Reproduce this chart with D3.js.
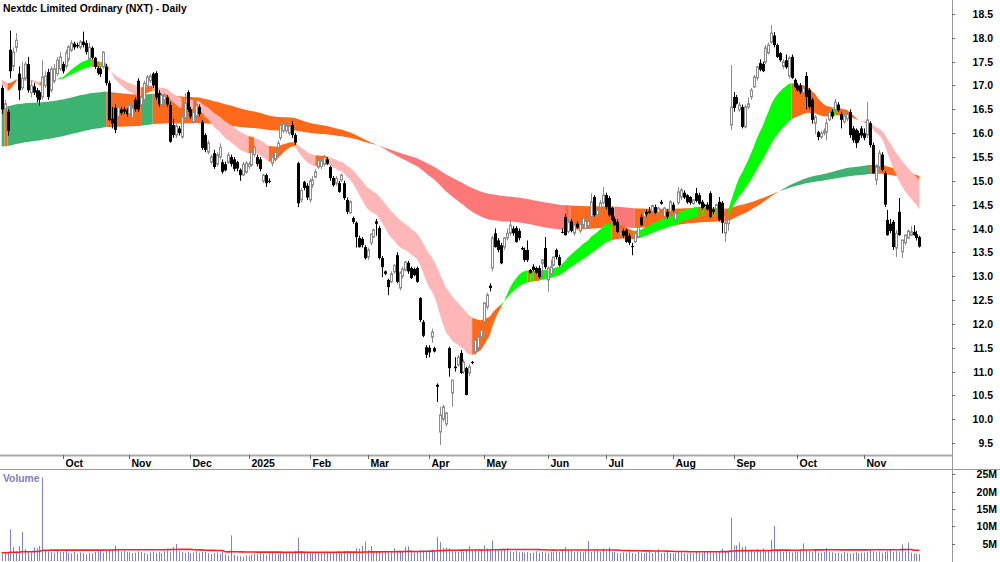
<!DOCTYPE html>
<html>
<head>
<meta charset="utf-8">
<script src="https://cdn.jsdelivr.net/npm/d3@7/dist/d3.min.js"></script>
<style>
  body { margin: 0; background: #fff; }
  svg text { font-family: "Liberation Sans", Arial, sans-serif; font-weight: bold; }
</style>
</head>
<body>
<svg id="chart" width="1000" height="562"></svg>
<script>
// daily candles [open, high, low, close], one array per month
const sep24 = [[16.95,17.0,16.4,16.5],[16.5,16.7,16.45,16.62],[16.45,16.5,15.95,16.05],[17.75,18.15,17.15,17.3],[17.4,17.8,17.3,17.7],[17.8,18.1,17.7,17.95],[17.25,17.4,16.7,16.9],[16.95,17.5,16.9,17.15],[17.15,17.5,17.1,17.45],[17.45,17.6,16.85,16.9],[16.85,17.1,16.75,17.0],[16.98,17.05,16.8,16.85],[16.9,16.95,16.65,16.75],[16.86,16.9,16.58,16.7],[16.76,17.53,16.7,17.18],[17.0,17.3,16.95,17.2],[17.28,17.35,16.7,16.76],[16.9,17.4,16.85,17.35],[17.1,17.45,17.05,17.35],[17.25,17.6,17.2,17.53],[17.35,17.7,17.3,17.6]];
const oct24 = [[17.45,17.5,17.25,17.3],[17.4,17.75,17.35,17.68],[17.55,17.85,17.5,17.81],[17.74,17.95,17.7,17.89],[17.88,17.92,17.75,17.8],[17.85,17.9,17.78,17.82],[17.8,17.95,17.75,17.92],[17.92,18.13,17.8,17.85],[17.89,17.95,17.65,17.7],[17.55,17.9,17.5,17.8],[17.79,17.82,17.55,17.58],[17.58,17.6,17.35,17.39],[17.37,17.4,17.22,17.26],[17.35,17.38,17.18,17.24],[17.39,17.72,17.35,17.7],[17.39,17.45,17.0,17.05],[17.05,17.1,16.25,16.28],[16.3,16.55,16.1,16.2],[16.53,16.6,16.0,16.07],[16.34,16.6,16.3,16.55],[16.5,16.55,16.38,16.42],[16.5,16.55,16.4,16.45],[16.48,16.52,16.35,16.4]];
const nov24 = [[16.4,16.65,16.35,16.6],[16.32,16.6,16.3,16.53],[16.7,16.75,16.45,16.5],[17.1,17.15,16.45,16.5],[16.6,16.8,16.55,16.75],[16.7,17.1,16.65,17.05],[17.0,17.22,16.95,17.18],[17.1,17.25,17.05,17.2],[17.25,17.28,16.95,17.0],[17.26,17.3,16.7,16.75],[16.84,16.9,16.55,16.6],[16.6,16.85,16.55,16.8],[16.7,16.85,16.65,16.78],[16.75,16.8,16.55,16.6],[16.59,16.65,15.8,15.82],[16.17,16.3,15.9,15.96],[15.96,16.2,15.9,16.15],[16.1,16.15,15.95,16.0],[15.92,16.4,15.88,16.34],[16.32,16.84,16.3,16.63],[16.86,16.9,16.45,16.49]];
const dec24 = [[16.5,16.55,16.3,16.35],[16.23,16.5,16.2,16.44],[16.35,16.7,16.3,16.6],[16.55,16.6,16.35,16.4],[16.23,16.28,15.65,15.69],[15.96,16.0,15.6,15.65],[15.6,15.85,15.55,15.8],[15.39,15.55,15.35,15.5],[15.58,15.65,15.25,15.29],[15.35,15.6,15.3,15.55],[15.5,15.79,15.45,15.7],[15.39,15.45,15.15,15.19],[15.35,15.4,15.2,15.22],[15.39,15.6,15.35,15.54],[15.5,15.55,15.3,15.35],[15.45,15.5,15.2,15.25],[15.39,15.42,15.2,15.26],[15.23,15.26,15.0,15.12],[15.12,15.4,15.1,15.35],[15.18,15.42,15.15,15.37]];
const jan25 = [[15.3,15.4,15.25,15.35],[15.33,15.65,15.3,15.6],[15.55,15.75,15.5,15.7],[15.5,15.55,15.3,15.35],[15.45,15.5,15.2,15.25],[15.0,15.15,14.95,15.12],[15.12,15.15,14.87,14.95],[15.0,15.05,14.95,14.98],[15.37,15.55,15.3,15.5],[15.45,15.65,15.4,15.6],[15.69,15.85,15.65,15.79],[15.9,16.2,15.85,16.17],[16.05,16.25,16.0,16.2],[16.05,16.22,16.0,16.15],[16.0,16.2,15.95,16.15],[16.17,16.25,15.9,15.96],[15.96,16.0,15.75,15.8],[15.37,15.4,14.45,14.53],[14.6,14.85,14.55,14.8],[14.98,15.0,14.8,14.85],[14.9,14.95,14.6,14.65]];
const feb25 = [[14.6,15.05,14.55,15.0],[14.91,15.1,14.85,15.02],[15.08,15.25,15.05,15.19],[15.29,15.48,15.25,15.44],[15.3,15.45,15.25,15.42],[15.35,15.54,15.3,15.5],[15.45,15.5,15.33,15.36],[15.29,15.32,15.0,15.06],[15.06,15.1,14.88,14.91],[14.95,15.1,14.9,15.05],[14.95,15.0,14.75,14.77],[15.02,15.15,14.98,15.12],[14.95,15.0,14.6,14.64],[14.6,14.65,14.3,14.35],[14.33,14.6,14.3,14.56],[14.22,14.25,14.1,14.14],[14.12,14.15,13.6,13.82],[13.8,13.85,13.6,13.61],[13.78,13.82,13.6,13.65],[13.61,13.65,13.35,13.38]];
const mar25 = [[13.4,13.6,13.34,13.55],[13.7,13.9,13.65,13.88],[13.82,14.0,13.8,13.97],[14.15,14.2,13.85,14.1],[14.01,14.05,13.35,13.38],[13.38,13.42,12.98,13.19],[13.1,13.12,13.02,13.05],[12.92,12.95,12.6,12.77],[12.88,13.1,12.85,13.05],[13.09,13.25,13.05,13.23],[13.44,13.5,12.85,12.88],[12.75,13.1,12.7,13.07],[13.0,13.2,12.95,13.15],[13.13,13.32,13.1,13.3],[13.28,13.32,13.05,13.1],[13.17,13.2,12.94,12.96],[13.15,13.18,13.0,13.02],[13.17,13.2,12.86,12.88],[12.54,12.56,12.04,12.08],[12.04,12.08,11.72,11.75],[11.51,11.55,11.28,11.35]];
const apr25 = [[11.5,11.55,11.3,11.4],[11.72,11.9,11.6,11.83],[11.49,11.52,11.4,11.42],[10.72,10.75,10.36,10.68],[9.73,10.26,9.46,10.09],[10.0,10.3,9.95,10.26],[9.9,10.15,9.85,10.13],[11.49,11.52,10.89,11.07],[10.55,10.82,10.26,10.82],[11.1,11.3,11.0,11.07],[11.14,11.35,11.1,11.3],[11.39,11.45,10.95,10.97],[11.0,11.25,10.95,11.2],[11.07,11.1,10.5,10.51],[10.97,11.15,10.9,11.1],[11.2,11.22,11.15,11.18],[11.41,11.66,11.35,11.66],[11.5,11.75,11.45,11.72],[11.72,11.9,11.7,11.87]];
const may25 = [[12.04,12.44,12.0,12.44],[12.35,12.65,12.3,12.61],[12.8,12.85,12.68,12.75],[13.17,13.85,13.1,13.8],[13.9,14.0,13.6,13.61],[13.75,13.8,13.5,13.55],[13.65,13.7,13.25,13.27],[13.61,13.82,13.55,13.8],[13.8,14.0,13.75,13.9],[13.9,14.18,13.85,14.07],[14.0,14.05,13.85,13.9],[14.01,14.05,13.7,13.72],[13.95,14.0,13.75,13.8],[13.59,13.62,13.55,13.56],[13.55,13.6,13.3,13.34],[13.55,13.75,13.3,13.34],[13.13,13.15,13.05,13.07],[13.2,13.25,13.1,13.13],[13.17,13.2,13.05,13.07],[13.17,13.22,12.95,12.98],[13.27,13.36,12.97,13.34],[13.59,13.82,13.15,13.19]];
const jun25 = [[12.92,13.2,12.67,13.17],[13.05,13.35,13.0,13.2],[13.23,13.42,13.2,13.4],[13.55,13.58,13.35,13.4],[13.4,13.45,13.2,13.23],[13.93,14.0,13.9,13.92],[14.24,14.3,13.85,13.86],[13.93,14.2,13.9,14.14],[14.15,14.2,13.92,13.95],[13.9,14.1,13.85,14.07],[14.1,14.15,14.0,14.02],[13.95,14.15,13.9,14.1],[14.07,14.25,14.05,14.22],[14.0,14.2,13.98,14.15],[14.05,14.18,14.0,14.15],[14.24,14.74,14.2,14.56],[14.66,14.7,14.25,14.28],[14.28,14.4,14.25,14.38],[14.44,14.6,14.4,14.54],[14.54,14.87,14.5,14.7]];
const jul25 = [[14.7,14.75,14.4,14.45],[14.64,14.68,14.25,14.28],[14.43,14.45,14.15,14.18],[14.2,14.25,14.05,14.07],[14.14,14.2,13.9,13.93],[13.86,13.95,13.8,13.93],[13.95,14.0,13.8,13.85],[13.97,14.0,13.7,13.72],[13.85,13.9,13.65,13.7],[13.63,13.7,13.44,13.61],[13.72,13.95,13.7,13.9],[13.82,14.05,13.8,14.03],[14.24,14.3,14.05,14.07],[14.24,14.38,14.2,14.35],[14.35,14.4,14.25,14.3],[14.36,14.45,14.3,14.33],[14.35,14.5,14.3,14.48],[14.45,14.5,14.3,14.33],[14.33,14.45,14.3,14.43],[14.56,14.6,14.5,14.52],[14.24,14.45,14.2,14.43],[14.35,14.4,14.2,14.25],[14.35,14.6,14.3,14.56]];
const aug25 = [[14.5,14.55,14.35,14.38],[14.18,14.35,14.15,14.33],[14.54,14.87,14.5,14.77],[14.66,14.85,14.6,14.81],[14.75,14.8,14.62,14.65],[14.7,14.72,14.52,14.55],[14.66,14.68,14.5,14.54],[14.52,14.62,14.5,14.6],[14.74,14.85,14.55,14.58],[14.7,14.75,14.5,14.52],[14.56,14.6,14.4,14.43],[14.5,14.52,14.45,14.47],[14.5,14.55,14.38,14.4],[14.74,14.78,14.22,14.24],[14.4,14.45,14.3,14.35],[14.4,14.52,14.38,14.5],[14.56,14.66,14.15,14.18],[14.54,14.58,13.9,14.12],[13.9,14.15,13.72,14.12],[14.1,14.25,13.95,14.2],[16.17,17.43,16.07,16.55]];
const sep25 = [[16.76,16.86,16.45,16.53],[16.76,16.8,16.6,16.62],[16.49,16.65,16.45,16.59],[16.55,16.6,16.1,16.13],[16.13,16.6,16.1,16.55],[16.55,16.75,16.5,16.62],[16.76,16.95,16.7,16.9],[16.97,17.22,16.95,17.18],[17.16,17.42,17.1,17.39],[17.47,17.55,17.3,17.33],[17.45,17.5,17.28,17.3],[17.49,17.85,17.45,17.79],[17.68,17.9,17.65,17.85],[17.91,18.27,17.88,18.1],[18.05,18.12,17.8,17.85],[17.85,17.88,17.58,17.6],[17.68,17.7,17.5,17.53],[17.4,17.55,17.35,17.5],[17.53,17.65,17.35,17.38],[17.2,17.62,17.15,17.58],[17.6,17.65,17.14,17.16],[17.12,17.15,16.95,16.97]];
const oct25 = [[17.0,17.05,16.88,16.9],[17.0,17.05,16.82,16.86],[16.85,17.0,16.6,16.95],[17.2,17.28,16.5,16.76],[16.91,16.95,16.5,16.55],[16.7,16.74,16.2,16.28],[16.21,16.38,15.98,16.34],[16.02,16.05,15.85,15.92],[15.92,16.05,15.88,16.0],[16.0,16.1,15.95,16.05],[16.02,16.3,15.85,16.21],[16.28,16.5,16.25,16.44],[16.45,16.5,16.3,16.35],[16.49,16.72,16.45,16.65],[16.6,16.65,16.45,16.48],[16.4,16.45,16.1,16.28],[16.24,16.45,16.2,16.35],[16.3,16.45,16.25,16.4],[16.44,16.5,15.9,15.96],[16.1,16.15,15.8,15.85],[16.07,16.1,15.69,15.79],[16.0,16.05,15.8,15.85],[16.1,16.15,15.9,15.95]];
const nov25 = [[16.0,16.1,15.85,15.9],[15.96,16.65,15.9,16.28],[16.21,16.25,15.7,15.75],[15.75,15.8,15.14,15.16],[15.02,15.35,14.91,15.29],[15.3,15.65,15.25,15.58],[15.55,15.6,15.2,15.23],[15.16,15.2,14.45,14.5],[14.18,14.39,13.85,13.86],[14.1,14.2,13.9,13.95],[14.14,14.18,13.55,13.61],[13.59,13.97,13.4,13.9],[14.35,14.64,13.85,13.86],[13.51,13.76,13.38,13.76],[13.7,13.88,13.65,13.86],[13.8,13.98,13.78,13.95],[13.86,14.05,13.84,13.93],[13.93,14.07,13.85,13.86],[13.88,13.95,13.75,13.8],[13.82,13.85,13.6,13.62]];

// daily volume in millions, one array per month
const volSep24 = [2.1,2.4,2.6,9.1,4.0,2.8,4.3,8.4,3.4,2.6,2.5,4.0,3.7,4.3,24.1,3.0,2.8,2.6,2.4,2.9,2.5];
const volOct24 = [2.6,2.9,2.4,2.2,2.7,2.1,2.5,2.3,1.9,2.4,2.2,2.6,2.8,3.1,2.4,2.9,3.3,3.0,4.5,3.2,2.7,2.9,2.6];
const volNov24 = [2.5,2.2,2.4,2.8,2.6,2.3,2.1,2.5,2.7,2.4,2.6,2.3,2.8,3.0,2.5,4.0,4.9,2.9,2.6,2.4,2.7];
const volDec24 = [2.3,2.5,2.9,2.4,2.7,2.6,2.2,2.0,2.3,2.5,2.1,2.6,1.9,1.6,7.4,1.8,1.5,1.4,1.2,1.6];
const volJan25 = [1.5,1.9,2.2,2.0,2.4,2.1,1.8,2.3,2.5,2.2,2.0,2.6,2.4,2.3,2.7,2.5,2.9,6.7,2.8,2.6,2.5];
const volFeb25 = [2.4,2.6,2.3,2.5,2.2,2.4,2.7,2.5,2.3,2.6,2.8,2.5,2.9,3.0,2.7,2.6,3.7,3.6,4.3,5.6];
const volMar25 = [3.1,4.3,2.8,2.6,2.9,2.7,3.0,2.8,2.5,3.7,2.9,2.6,2.8,4.1,4.2,2.7,2.4,2.9,3.2,3.0,2.8];
const volApr25 = [2.9,3.3,3.1,7.0,5.5,3.8,3.9,3.7,3.2,2.8,2.6,3.0,2.7,2.9,4.3,3.1,3.4,3.0,2.8];
const volMay25 = [4.5,3.6,3.2,5.9,3.4,3.1,2.9,3.3,3.7,2.8,2.6,2.9,2.5,2.7,2.4,2.6,2.3,2.5,2.8,2.4,2.6,2.5];
const volJun25 = [2.4,2.7,2.5,2.9,2.6,2.8,4.0,3.1,2.9,2.6,2.8,2.7,2.5,2.9,5.8,2.6,2.8,3.0,2.7,3.6];
const volJul25 = [2.8,3.9,2.5,2.6,2.3,2.2,2.5,2.4,2.7,2.3,2.1,2.6,2.4,2.2,2.5,2.8,2.3,2.6,3.4,2.2,2.4,2.6,2.3];
const volAug25 = [2.2,2.4,3.0,2.5,2.3,2.1,2.4,2.2,2.6,2.5,2.3,2.7,2.6,3.0,2.4,2.5,2.8,3.6,2.7,2.9,12.4];
const volSep25 = [4.5,4.5,5.3,4.0,4.2,3.1,2.9,2.7,3.4,2.8,3.6,2.9,3.0,6.1,10.1,3.2,2.8,2.6,2.9,2.7,2.5,2.8];
const volOct25 = [2.7,2.9,5.1,3.0,2.8,2.6,3.5,2.5,2.4,2.6,3.8,2.7,2.5,2.3,2.4,2.2,2.6,2.4,2.1,2.3,2.5,2.2,2.4];
const volNov25 = [2.4,2.6,3.3,2.8,2.5,2.7,2.4,2.6,2.9,3.3,2.6,2.8,2.5,4.8,2.7,5.3,2.4,2.2,2.1,2.0];

// month labels for ticks at the start of each month after the first
const monthLabels = ["Oct","Nov","Dec","2025","Feb","Mar","Apr","May","Jun","Jul","Aug","Sep","Oct","Nov"];
const priceTicks = [9.5,10.0,10.5,11.0,11.5,12.0,12.5,13.0,13.5,14.0,14.5,15.0,15.5,16.0,16.5,17.0,17.5,18.0,18.5];
const volumeTicks = [5,10,15,20,25];

// moving average settings (periods + starting values)
const shortFastPeriod = 20, shortSlowPeriod = 40;
const longFastPeriod = 150, longSlowPeriod = 250;
const shortFastStart = 17.01, shortSlowStart = 17.12;
const longFastStart = 16.57, longSlowStart = 15.72;
const volAvgPeriod = 63, volAvgStart = 2.4;

const months = [sep24,oct24,nov24,dec24,jan25,feb25,mar25,apr25,may25,jun25,jul25,aug25,sep25,oct25,nov25];
const vols = [].concat(volSep24,volOct24,volNov24,volDec24,volJan25,volFeb25,volMar25,volApr25,volMay25,volJun25,volJul25,volAug25,volSep25,volOct25,volNov25);

const bars = [];
const monthStarts = [];
months.forEach(m => {
  monthStarts.push(bars.length);
  m.forEach(r => bars.push({o: r[0], h: r[1], l: r[2], c: r[3]}));
});
bars.forEach((b, i) => { b.v = vols[i]; });
const n = bars.length;

function ema(period, start) {
  const a = 2 / (period + 1);
  const out = [start];
  for (let i = 1; i < n; i++) out.push(out[i - 1] + a * (bars[i].c - out[i - 1]));
  return out;
}
const sF = ema(shortFastPeriod, shortFastStart), sS = ema(shortSlowPeriod, shortSlowStart);
const lF = ema(longFastPeriod, longFastStart), lS = ema(longSlowPeriod, longSlowStart);

// trailing volume average, padded with the starting level before the data begins
const volAvg = bars.map((b, i) => {
  let sum = 0;
  for (let k = i - volAvgPeriod + 1; k <= i; k++) sum += k >= 0 ? vols[k] : volAvgStart;
  return sum / volAvgPeriod;
});

// ---- scales ----
const x = d3.scaleLinear().domain([0, n - 1]).range([1.7, 919.4]);
const y = d3.scaleLinear().domain([9.5, 18.5]).range([443, 14]);
const yv = d3.scaleLinear().domain([0, 25]).range([561, 474.3]);

const svg = d3.select("#chart");
const axisX = 952;

// ---- ribbons ----
function ribbon(fast, slow, colors) {
  // colour by fast vs slow and the direction of the fast line
  const state = fast.map((f, i) => {
    const up = i === 0 ? true : f > fast[i - 1];
    const above = f > slow[i];
    if (above && up) return "up";
    if (!above && !up) return "down";
    return "mixed";
  });
  state[0] = state[1];
  const area = d3.area()
    .x(i => x(i))
    .y0(i => y(fast[i]))
    .y1(i => y(slow[i]));
  let s = 0;
  for (let i = 1; i <= n; i++) {
    if (i === n || state[i] !== state[s]) {
      const idx = d3.range(Math.max(0, s - 1), i);
      svg.append("path").attr("d", area(idx)).attr("fill", colors[state[s]]);
      s = i;
    }
  }
}
ribbon(lF, lS, {up: "#3cb371", down: "#ff7878", mixed: "#ff6a1a"});
ribbon(sF, sS, {up: "#00ff00", down: "#ffb6b6", mixed: "#ff6a1a"});

// ---- candles ----
const cg = svg.append("g");
bars.forEach((b, i) => {
  const cx = Math.round(x(i));
  const black = b.c < b.o;
  const col = black ? "#000" : "#8c8c8c";
  cg.append("line")
    .attr("x1", cx + 0.5).attr("x2", cx + 0.5)
    .attr("y1", y(b.h)).attr("y2", y(b.l))
    .attr("stroke", col).attr("stroke-width", 1);
  const top = y(Math.max(b.o, b.c)), bot = y(Math.min(b.o, b.c));
  if (black) {
    cg.append("rect").attr("x", cx - 1).attr("width", 3)
      .attr("y", top).attr("height", Math.max(1, bot - top)).attr("fill", "#000");
  } else {
    cg.append("rect").attr("x", cx - 0.5).attr("width", 2)
      .attr("y", top).attr("height", Math.max(1, bot - top))
      .attr("fill", "#fff").attr("stroke", col).attr("stroke-width", 1);
  }
});

// ---- frame lines ----
svg.append("line").attr("x1", axisX + 0.5).attr("x2", axisX + 0.5).attr("y1", 0).attr("y2", 562)
  .attr("stroke", "#999");
svg.append("line").attr("x1", 0).attr("x2", axisX).attr("y1", 455.5).attr("y2", 455.5)
  .attr("stroke", "#aaa").attr("stroke-width", 2);
svg.append("line").attr("x1", 0).attr("x2", 1000).attr("y1", 469.5).attr("y2", 469.5)
  .attr("stroke", "#999");

// ---- price axis ----
const pAxis = svg.append("g");
priceTicks.forEach(t => {
  const ty = Math.round(y(t)) + 0.5;
  pAxis.append("line").attr("x1", axisX).attr("x2", axisX + 3).attr("y1", ty).attr("y2", ty).attr("stroke", "#666");
  pAxis.append("text").attr("x", 993).attr("y", ty).attr("dy", "0.35em")
    .attr("text-anchor", "end").attr("font-size", 10.5).attr("fill", "#000")
    .text(t.toFixed(1));
});

// ---- month axis ----
const mAxis = svg.append("g");
monthLabels.forEach((lab, k) => {
  const tx = Math.round(x(monthStarts[k + 1])) + 0.5;
  mAxis.append("line").attr("x1", tx).attr("x2", tx).attr("y1", 455).attr("y2", 459).attr("stroke", "#666");
  mAxis.append("text").attr("x", tx + 2).attr("y", 466.5)
    .attr("font-size", 10.5).attr("fill", "#000").text(lab);
});

// ---- title ----
svg.append("text").attr("x", 3).attr("y", 12).attr("font-size", 10.3).attr("fill", "#000")
  .text("Nextdc Limited Ordinary (NXT) - Daily");

// ---- volume ----
const vg = svg.append("g");
bars.forEach((b, i) => {
  const cx = Math.round(x(i)) + 0.5;
  vg.append("line").attr("x1", cx).attr("x2", cx).attr("y1", yv(0)).attr("y2", yv(b.v))
    .attr("stroke", "#8080d0").attr("stroke-width", 1);
});
const avgLine = d3.line().x((d, i) => x(i)).y(d => yv(d));
vg.append("path").attr("d", avgLine(volAvg)).attr("fill", "none")
  .attr("stroke", "#ff2020").attr("stroke-width", 1.6);
vg.append("text").attr("x", 3).attr("y", 482).attr("font-size", 10.3).attr("fill", "#8080c0").text("Volume");

volumeTicks.forEach(t => {
  const ty = Math.round(yv(t)) + 0.5;
  vg.append("line").attr("x1", axisX).attr("x2", axisX + 3).attr("y1", ty).attr("y2", ty).attr("stroke", "#666");
  vg.append("text").attr("x", 997).attr("y", ty).attr("dy", "0.35em")
    .attr("text-anchor", "end").attr("font-size", 10.5).attr("fill", "#000").text(t + "M");
});
</script>
</body>
</html>
